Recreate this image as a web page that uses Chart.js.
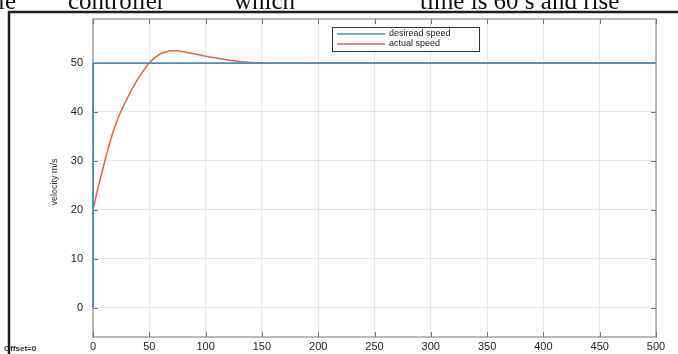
<!DOCTYPE html>
<html>
<head>
<meta charset="utf-8">
<script src="https://cdn.jsdelivr.net/npm/chart.js@4.4.0/dist/chart.umd.min.js"></script>
<style>
  html, body { margin: 0; padding: 0; background: #fff; }
  #wrap { position: relative; width: 678px; height: 354px; overflow: hidden; }
  #chart { position: absolute; left: 0; top: 0; }
  .doc { position: absolute; top: -11px; font-family: "Liberation Serif", serif; font-size: 25px; line-height: 24px; color: #111; white-space: nowrap; }
</style>
</head>
<body>
<div id="wrap">
  <canvas id="chart" width="678" height="354"></canvas>
  <span class="doc" style="left:-2px">le</span>
  <span class="doc" style="left:68px">controller</span>
  <span class="doc" style="left:234px">which</span>
  <span class="doc" style="left:420px">time is 60 s and rise</span>
</div>
<script>
// step reference and plant response
const timeDesired = [0, 0, 500];
const desiredSpeed = [0, 50, 50];

const timeActual = [0, 5, 10, 15, 20, 25, 30, 35, 40, 45, 50, 55, 60, 65, 70, 75, 80, 90, 100, 110, 120, 130, 140, 150, 170, 200, 300, 400, 500];
const actualSpeed = [20, 25, 29.5, 33.8, 37.4, 40.2, 42.6, 44.8, 46.8, 48.5, 50, 51.1, 51.9, 52.3, 52.5, 52.5, 52.3, 51.9, 51.4, 51, 50.6, 50.3, 50.1, 50, 49.95, 50, 50, 50, 50];

const xTicks = [0, 50, 100, 150, 200, 250, 300, 350, 400, 450, 500];
const yTicks = [0, 10, 20, 30, 40, 50];

const seriesLabels = ['desiread speed', 'actual speed'];
const seriesColors = ['#4a8cc6', '#e0653e'];

const toPoints = (xs, ys) => xs.map((x, i) => ({ x: x, y: ys[i] }));

// frame, box ticks, legend, y label, offset note
const decor = {
    id: 'decor',
    beforeDraw(chart) {
        const ctx = chart.ctx;
        ctx.save();
        ctx.fillStyle = '#fff';
        ctx.fillRect(0, 0, chart.width, chart.height);
        ctx.restore();
    },
    beforeDatasetsDraw(chart) {
        const ctx = chart.ctx;
        const a = chart.chartArea;
        const xs = chart.scales.x, ys = chart.scales.y;
        ctx.save();

        // axes box
        ctx.strokeStyle = '#8a8a8a';
        ctx.lineWidth = 1.2;
        ctx.strokeRect(a.left, a.top, a.right - a.left, a.bottom - a.top);

        // inward ticks on all sides
        ctx.strokeStyle = '#777';
        ctx.lineWidth = 1;
        ctx.beginPath();
        xTicks.forEach(v => {
            const px = Math.round(xs.getPixelForValue(v)) + 0.5;
            ctx.moveTo(px, a.bottom); ctx.lineTo(px, a.bottom - 5);
            ctx.moveTo(px, a.top); ctx.lineTo(px, a.top + 5);
        });
        yTicks.forEach(v => {
            const py = Math.round(ys.getPixelForValue(v)) + 0.5;
            ctx.moveTo(a.left, py); ctx.lineTo(a.left + 5, py);
            ctx.moveTo(a.right, py); ctx.lineTo(a.right - 5, py);
        });
        ctx.stroke();
        ctx.restore();
    },
    afterDraw(chart) {
        const ctx = chart.ctx;
        ctx.save();

        // legend
        const lx = 332, ly = 27, lw = 147, lh = 24;
        ctx.fillStyle = '#fff';
        ctx.fillRect(lx, ly, lw, lh);
        ctx.strokeStyle = '#333';
        ctx.lineWidth = 1;
        ctx.strokeRect(lx + 0.5, ly + 0.5, lw, lh);
        ctx.font = '9px "Liberation Sans", Arial, sans-serif';
        ctx.textBaseline = 'middle';
        ctx.textAlign = 'left';
        seriesLabels.forEach((lab, i) => {
            const yy = ly + 7 + i * 10;
            ctx.strokeStyle = seriesColors[i];
            ctx.lineWidth = 1.3;
            ctx.beginPath();
            ctx.moveTo(lx + 5, yy); ctx.lineTo(lx + 53, yy);
            ctx.stroke();
            ctx.fillStyle = '#222';
            ctx.fillText(lab, lx + 57, yy);
        });

        // y axis title
        ctx.save();
        ctx.translate(55, 182);
        ctx.rotate(-Math.PI / 2);
        ctx.font = '9px "Liberation Sans", Arial, sans-serif';
        ctx.textAlign = 'center';
        ctx.fillStyle = '#333';
        ctx.fillText('velocity m/s', 0, 0);
        ctx.restore();

        // offset note
        ctx.font = 'bold 8px "Liberation Sans", Arial, sans-serif';
        ctx.fillStyle = '#333';
        ctx.textAlign = 'left';
        ctx.fillText('Offset=0', 4, 349);

        // outer figure frame
        ctx.strokeStyle = '#1e1e1e';
        ctx.lineWidth = 2.5;
        ctx.beginPath();
        ctx.moveTo(9, 354);
        ctx.lineTo(9, 12);
        ctx.lineTo(678, 12);
        ctx.stroke();

        ctx.restore();
    }
};

new Chart(document.getElementById('chart'), {
    type: 'line',
    data: {
        datasets: [
            { label: seriesLabels[0], data: toPoints(timeDesired, desiredSpeed), borderColor: seriesColors[0], borderWidth: 1.8, pointRadius: 0, tension: 0, clip: 3 },
            { label: seriesLabels[1], data: toPoints(timeActual, actualSpeed), borderColor: seriesColors[1], borderWidth: 1.5, pointRadius: 0, cubicInterpolationMode: 'monotone', clip: 3 }
        ]
    },
    options: {
        responsive: false,
        animation: false,
        layout: { padding: { top: 19, right: 22, bottom: 0, left: 0 } },
        plugins: {
            legend: { display: false },
            tooltip: { enabled: false }
        },
        scales: {
            x: {
                type: 'linear',
                min: 0, max: 500,
                afterFit: s => { s.height = 17; },
                afterBuildTicks: s => { s.ticks = xTicks.map(v => ({ value: v })); },
                grid: { color: '#e8e8e8', drawTicks: false },
                border: { display: false },
                ticks: { padding: 3, maxRotation: 0, color: '#222', font: { family: '"Liberation Sans", Arial, sans-serif', size: 11 } }
            },
            y: {
                min: -6, max: 59,
                afterFit: s => { s.width = 93; },
                afterBuildTicks: s => { s.ticks = yTicks.map(v => ({ value: v })); },
                grid: { color: '#e8e8e8', drawTicks: false },
                border: { display: false },
                ticks: { padding: 10, color: '#222', font: { family: '"Liberation Sans", Arial, sans-serif', size: 11 } }
            }
        }
    },
    plugins: [decor]
});
</script>
</body>
</html>
